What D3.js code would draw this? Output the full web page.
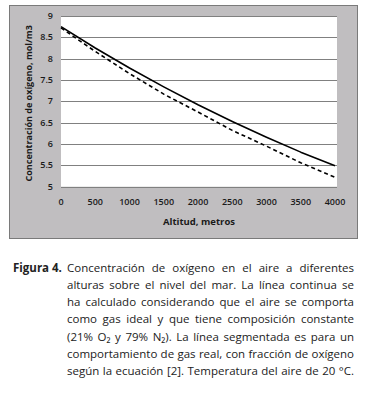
<!DOCTYPE html>
<html>
<head>
<meta charset="utf-8">
<script src="https://cdn.jsdelivr.net/npm/d3@7"></script>
<style>
  body { margin: 0; background: #fff; }
  svg { display: block; }
</style>
</head>
<body>
<svg id="chart" width="366" height="402"></svg>
<script>
  var altitudes = [0, 500, 1000, 1500, 2000, 2500, 3000, 3500, 4000];
  var idealGas = [8.75, 8.25, 7.78, 7.34, 6.92, 6.53, 6.16, 5.81, 5.49];
  var realGas  = [8.72, 8.17, 7.65, 7.17, 6.75, 6.32, 5.95, 5.56, 5.22];
  var xTicks = [0, 500, 1000, 1500, 2000, 2500, 3000, 3500, 4000];
  var yTicks = [5, 5.5, 6, 6.5, 7, 7.5, 8, 8.5, 9];
  var yTitle = "Concentración de oxígeno, mol/m3";
  var xTitle = "Altitud, metros";
  var captionLead = "Figura 4.";
  var captionLines = [
    "Concentración de oxígeno en el aire a diferentes",
    "alturas sobre el nivel del mar. La línea continua se",
    "ha calculado considerando que el aire se comporta",
    "como gas ideal y que tiene composición constante",
    "(21% O₂ y 79% N₂). La línea segmentada es para un",
    "comportamiento de gas real, con fracción de oxígeno",
    "según la ecuación [2]. Temperatura del aire de 20 °C."
  ];

  var svg = d3.select("#chart");
  var font = "'Open Sans', sans-serif";

  // chart frame
  svg.append("rect")
    .attr("x", 9.5).attr("y", 5.5)
    .attr("width", 348).attr("height", 233)
    .attr("fill", "#c0bec0")
    .attr("stroke", "#7a7a7a");

  var x = d3.scaleLinear().domain([0, 4000]).range([61, 335]);
  var y = d3.scaleLinear().domain([5, 9]).range([186.7, 16]);

  svg.append("rect")
    .attr("x", 61).attr("y", y(9))
    .attr("width", 337 - 61).attr("height", y(5) - y(9))
    .attr("fill", "#fff");

  // gridlines
  svg.append("g").selectAll("line")
    .data(yTicks).enter().append("line")
    .attr("x1", 61).attr("x2", 337)
    .attr("y1", function (d) { return Math.round(y(d)) + 0.5; })
    .attr("y2", function (d) { return Math.round(y(d)) + 0.5; })
    .attr("stroke", "#808080").attr("stroke-width", 1);

  // y tick labels
  svg.append("g").selectAll("text")
    .data(yTicks).enter().append("text")
    .attr("x", 53).attr("y", function (d) { return y(d) + 3; })
    .attr("text-anchor", "end")
    .attr("font-family", font).attr("font-size", 9).attr("font-weight", 600)
    .attr("fill", "#1a1a1a")
    .text(function (d) { return d; });

  // x tick labels
  svg.append("g").selectAll("text")
    .data(xTicks).enter().append("text")
    .attr("x", function (d) { return x(d); }).attr("y", 205)
    .attr("text-anchor", "middle")
    .attr("font-family", font).attr("font-size", 9).attr("font-weight", 600)
    .attr("fill", "#1a1a1a")
    .text(function (d) { return d; });

  svg.append("text")
    .attr("x", 199).attr("y", 225)
    .attr("text-anchor", "middle")
    .attr("font-family", font).attr("font-size", 9.5).attr("font-weight", 700)
    .attr("fill", "#1a1a1a")
    .text(xTitle);

  svg.append("text")
    .attr("transform", "translate(32," + ((y(5) + y(9)) / 2 + 2) + ") rotate(-90)")
    .attr("text-anchor", "middle")
    .attr("font-family", font).attr("font-size", 9).attr("font-weight", 700)
    .attr("fill", "#1a1a1a")
    .text(yTitle);

  var line = d3.line()
    .x(function (d, i) { return x(altitudes[i]); })
    .y(function (d) { return y(d); });

  svg.append("path").datum(idealGas)
    .attr("d", line).attr("fill", "none")
    .attr("stroke", "#000").attr("stroke-width", 1.6)
    .attr("stroke-linejoin", "round");

  svg.append("path").datum(realGas)
    .attr("d", line).attr("fill", "none")
    .attr("stroke", "#000").attr("stroke-width", 1.6)
    .attr("stroke-dasharray", "4,3");

  // caption, justified
  var capFont = 11.5;
  var left = 67, right = 354, top0 = 271.5, lh = 17.3;
  svg.append("text")
    .attr("x", 13).attr("y", top0)
    .attr("font-family", font).attr("font-size", capFont).attr("font-weight", 700)
    .attr("fill", "#222")
    .text(captionLead);

  captionLines.forEach(function (ln, li) {
    var words = ln.split(" ");
    var g = svg.append("g");
    var nodes = words.map(function (w) {
      return g.append("text")
        .attr("y", top0 + li * lh)
        .attr("font-family", font).attr("font-size", capFont)
        .attr("fill", "#222")
        .text(w);
    });
    var widths = nodes.map(function (n) { return n.node().getComputedTextLength(); });
    var total = d3.sum(widths);
    var gap = (right - left - total) / (words.length - 1);
    if (li === captionLines.length - 1) gap = Math.min(gap, 3.5);
    var cx = left;
    nodes.forEach(function (n, i) {
      n.attr("x", cx);
      cx += widths[i] + gap;
    });
  });
</script>
</body>
</html>
